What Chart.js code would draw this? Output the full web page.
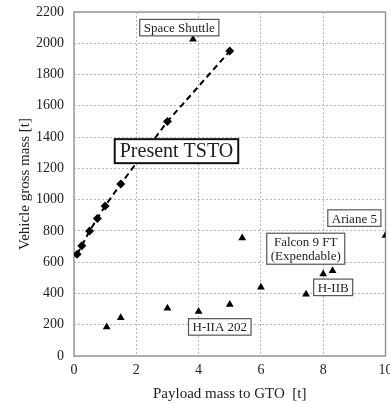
<!DOCTYPE html>
<html>
<head>
<meta charset="utf-8">
<script src="https://cdn.jsdelivr.net/npm/chart.js@4.4.1/dist/chart.umd.min.js"></script>
<style>
  html, body { margin: 0; padding: 0; background: #fff; }
  #wrap { width: 390px; height: 403px; position: relative; }
</style>
</head>
<body>
<div id="wrap"><canvas id="myChart"></canvas></div>
<script>
// Present TSTO (diamonds, dashed line)
const tstoPayload = [0.1, 0.25, 0.5, 0.75, 1.0, 1.5, 3.0, 5.0];
const tstoMass = [650, 705, 800, 880, 960, 1100, 1500, 1950];

// existing launchers (triangles)
const rocketPayload = [1.05, 1.5, 3.0, 3.82, 4.0, 5.0, 5.4, 6.0, 7.45, 8.0, 8.3, 10.0];
const rocketMass = [185, 245, 305, 2025, 285, 330, 755, 440, 395, 525, 545, 770];

// boxed labels, anchored at data positions
const labelText = [["Space Shuttle"], ["Present TSTO"], ["Ariane 5"], ["Falcon 9 FT", "(Expendable)"], ["H-IIB"], ["H-IIA 202"]];
const labelX = [3.38, 3.29, 9.0, 7.44, 8.32, 4.68];
const labelY = [2100, 1310, 882, 686, 439, 186];
const labelBig = [false, true, false, false, false, false];

const xTicks = [0, 2, 4, 6, 8, 10];
const yTicks = [0, 200, 400, 600, 800, 1000, 1200, 1400, 1600, 1800, 2000, 2200];

const serif = "'Liberation Serif', 'Times New Roman', serif";

const boxLabels = {
  id: "boxLabels",
  afterDatasetsDraw(chart) {
    const ctx = chart.ctx;
    const xs = chart.scales.x, ys = chart.scales.y;
    ctx.save();
    labelText.forEach((lines, i) => {
      const big = labelBig[i];
      const size = big ? 20 : 13;
      const lh = big ? 21 : 14.5;
      ctx.font = size + "px " + serif;
      const w = Math.max(...lines.map(l => ctx.measureText(l).width));
      const cx = xs.getPixelForValue(labelX[i]);
      const cy = ys.getPixelForValue(labelY[i]);
      const padX = big ? 5 : 4, padY = big ? 1.5 : 1;
      const h = lines.length * lh + padY * 2;
      const bx = cx - w / 2 - padX, by = cy - h / 2;
      ctx.fillStyle = "#fff";
      ctx.fillRect(bx, by, w + padX * 2, h);
      ctx.strokeStyle = big ? "#111" : "#555";
      ctx.lineWidth = big ? 2 : 1.2;
      ctx.strokeRect(bx, by, w + padX * 2, h);
      ctx.fillStyle = "#222";
      ctx.textAlign = "center";
      ctx.textBaseline = "middle";
      lines.forEach((l, j) => {
        ctx.fillText(l, cx, by + padY + lh * j + lh / 2 + 1);
      });
    });
    ctx.restore();
  }
};

const plotBorder = {
  id: "plotBorder",
  beforeDatasetsDraw(chart) {
    const a = chart.chartArea, ctx = chart.ctx;
    ctx.save();
    ctx.strokeStyle = "#999";
    ctx.lineWidth = 1.5;
    ctx.strokeRect(a.left, a.top, a.right - a.left, a.bottom - a.top);
    ctx.restore();
  }
};

new Chart(document.getElementById("myChart"), {
  type: "scatter",
  data: {
    datasets: [
      {
        label: "Present TSTO",
        data: tstoPayload.map((p, i) => ({ x: p, y: tstoMass[i] })),
        showLine: true,
        borderColor: "#000",
        borderWidth: 2,
        borderDash: [6, 4],
        backgroundColor: "#000",
        pointStyle: "rectRot",
        pointRadius: 4.5,
        pointBorderWidth: 0,
      },
      {
        label: "Launchers",
        data: rocketPayload.map((p, i) => ({ x: p, y: rocketMass[i] })),
        showLine: false,
        backgroundColor: "#000",
        borderColor: "#000",
        pointStyle: "triangle",
        pointRadius: 4.5,
        pointBorderWidth: 0,
      },
    ],
  },
  options: {
    responsive: true,
    maintainAspectRatio: false,
    animation: false,
    layout: { padding: { top: 12, right: 1, left: 16, bottom: 0 } },
    plugins: { legend: { display: false }, tooltip: { enabled: false } },
    scales: {
      x: {
        type: "linear",
        min: 0, max: 10,
        afterBuildTicks: (s) => { s.ticks = xTicks.map(v => ({ value: v })); },
        afterFit: (s) => { s.height = 47; s.paddingLeft = 0; s.paddingRight = 0; },
        ticks: { font: { family: serif, size: 14 }, color: "#222", padding: 6, maxRotation: 0, callback: (v) => String(v) },
        grid: { color: "#b8b8b8", lineWidth: 1, drawTicks: false },
        border: { display: false, dash: [2, 2] },
        title: { display: true, text: "Payload mass to GTO  [t]", font: { family: serif, size: 15 }, color: "#222", padding: { top: 2, bottom: 0 } },
      },
      y: {
        type: "linear",
        min: 0, max: 2200,
        afterBuildTicks: (s) => { s.ticks = yTicks.map(v => ({ value: v })); },
        afterFit: (s) => { s.width = 58; s.paddingTop = 0; s.paddingBottom = 0; },
        ticks: { font: { family: serif, size: 14 }, color: "#222", padding: 10, callback: (v) => String(v) },
        grid: { color: "#b8b8b8", lineWidth: 1, drawTicks: false },
        border: { display: false, dash: [2, 2] },
        title: { display: true, text: "Vehicle gross mass [t]", font: { family: serif, size: 15 }, color: "#222", padding: { top: 0, bottom: 0 } },
      },
    },
  },
  plugins: [plotBorder, boxLabels],
});
</script>
</body>
</html>
